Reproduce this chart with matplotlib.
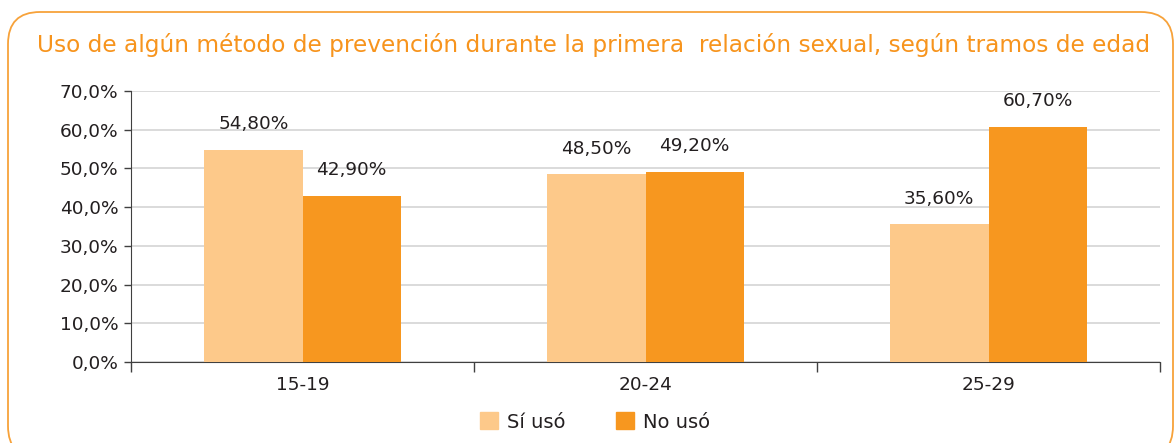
import matplotlib
matplotlib.use("Agg")
import matplotlib.pyplot as plt
from matplotlib.patches import FancyBboxPatch, Patch
import numpy as np

categories = ["15-19", "20-24", "25-29"]
si_uso = [54.8, 48.5, 35.6]
no_uso = [42.9, 49.2, 60.7]
si_labels = ["54,80%", "48,50%", "35,60%"]
no_labels = ["42,90%", "49,20%", "60,70%"]
yticks = [0, 10, 20, 30, 40, 50, 60, 70]
ytick_labels = ["0,0%", "10,0%", "20,0%", "30,0%", "40,0%", "50,0%", "60,0%", "70,0%"]
title = "Uso de algún método de prevención durante la primera  relación sexual, según tramos de edad"

W, H = 1174, 443
plt.rcParams['font.family'] = ['DejaVu Sans']
fig = plt.figure(figsize=(W / 100, H / 100), dpi=100)

c_light = "#FDC98A"
c_dark = "#F7971F"
c_border = "#F7A23A"
txt = "#231F20"
fs = 13.3

# rounded frame (pixel coordinates, origin bottom-left)
box = FancyBboxPatch((8, H - 458), 1173 - 8, 458 - 12,
                     boxstyle="round,pad=0,rounding_size=32",
                     transform=None, fill=False, edgecolor=c_border,
                     linewidth=1.3)
fig.patches.append(box)

ttl = fig.text(37 / W, 1 - 45 / H, title, color="#F7941D", fontsize=15,
               ha="left", va="center")
renderer = fig.canvas.get_renderer()
wpx = ttl.get_window_extent(renderer).width
ttl.set_fontsize(15 * (1150 - 37) / wpx)

ax = fig.add_axes([131 / W, 1 - 362 / H, (1160 - 131) / W, (362 - 91) / H])
x = np.arange(len(categories))
bw = 0.287
ax.bar(x - bw / 2, si_uso, bw, color=c_light, label="Sí usó", zorder=3)
ax.bar(x + bw / 2, no_uso, bw, color=c_dark, label="No usó", zorder=3)

for i in range(len(categories)):
    ax.annotate(si_labels[i], (x[i] - bw / 2, si_uso[i]), xytext=(0, 12),
                textcoords="offset points", ha="center", va="bottom",
                fontsize=fs, color=txt, zorder=4)
    ax.annotate(no_labels[i], (x[i] + bw / 2, no_uso[i]), xytext=(0, 12),
                textcoords="offset points", ha="center", va="bottom",
                fontsize=fs, color=txt, zorder=4)

ax.set_xlim(-0.5, 2.5)
ax.set_ylim(0, 70)
ax.set_yticks(yticks)
ax.set_yticklabels(ytick_labels, fontsize=fs, color=txt)
ax.yaxis.grid(True, color="#D4D4D4", linewidth=1.2, zorder=0)
ax.set_axisbelow(True)

ax.set_xticks(x)
ax.set_xticklabels(categories, fontsize=fs, color=txt)
ax.tick_params(axis="x", length=0, pad=10)
ax.set_xticks([-0.5, 0.5, 1.5, 2.5], minor=True)
ax.tick_params(axis="x", which="minor", length=7, width=1, color="#404040", direction="out")
ax.tick_params(axis="y", length=5, width=1, color="#404040", direction="out", pad=4)

for s in ["top", "right"]:
    ax.spines[s].set_visible(False)
ax.spines["left"].set_color("#404040")
ax.spines["bottom"].set_color("#404040")

leg = fig.legend(handles=[Patch(color=c_light, label="Sí usó"), Patch(color=c_dark, label="No usó")],
                 loc="center", bbox_to_anchor=(595 / W, 1 - 422 / H), ncol=2, frameon=False,
                 fontsize=14, handlelength=0.95, handleheight=0.95, columnspacing=2.6,
                 handletextpad=0.45)
for t in leg.get_texts():
    t.set_color(txt)

fig.savefig("out.png", dpi=100)
